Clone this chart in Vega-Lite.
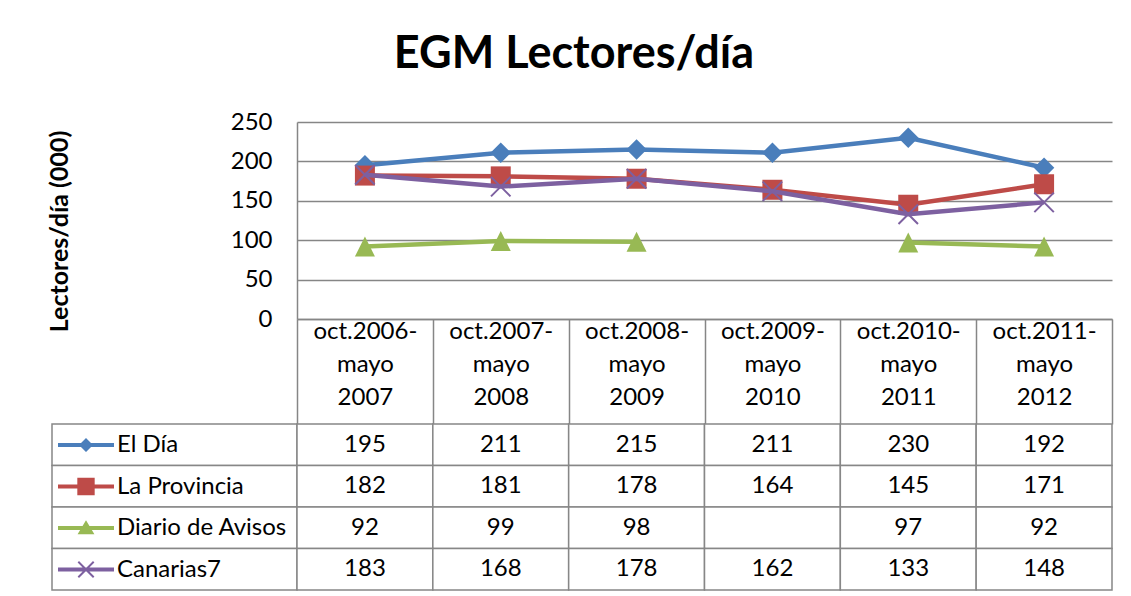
{
  "$schema": "https://vega.github.io/schema/vega-lite/v6.json",
  "background": "white",
  "padding": {"left": 47, "top": 32, "right": 5, "bottom": 5},
  "config": {"view": {"stroke": null}, "font": "Lato"},
  "title": {"text": "EGM Lectores/día", "fontSize": 45, "fontWeight": "bold", "color": "black", "anchor": "middle", "frame": "bounds", "offset": 33, "dx": -6},
  "bounds": "flush",
  "spacing": {"row": 105, "column": 0},
  "columns": 2,
  "resolve": {"scale": {"color": "independent", "shape": "independent"}, "legend": {"color": "independent", "shape": "independent"}},
  "datasets": {
    "egm": [
      {"period": "oct.2006-|mayo|2007", "serie": "El Día", "v": 195},
      {"period": "oct.2007-|mayo|2008", "serie": "El Día", "v": 211},
      {"period": "oct.2008-|mayo|2009", "serie": "El Día", "v": 215},
      {"period": "oct.2009-|mayo|2010", "serie": "El Día", "v": 211},
      {"period": "oct.2010-|mayo|2011", "serie": "El Día", "v": 230},
      {"period": "oct.2011-|mayo|2012", "serie": "El Día", "v": 192},
      {"period": "oct.2006-|mayo|2007", "serie": "La Provincia", "v": 182},
      {"period": "oct.2007-|mayo|2008", "serie": "La Provincia", "v": 181},
      {"period": "oct.2008-|mayo|2009", "serie": "La Provincia", "v": 178},
      {"period": "oct.2009-|mayo|2010", "serie": "La Provincia", "v": 164},
      {"period": "oct.2010-|mayo|2011", "serie": "La Provincia", "v": 145},
      {"period": "oct.2011-|mayo|2012", "serie": "La Provincia", "v": 171},
      {"period": "oct.2006-|mayo|2007", "serie": "Diario de Avisos", "v": 92},
      {"period": "oct.2007-|mayo|2008", "serie": "Diario de Avisos", "v": 99},
      {"period": "oct.2008-|mayo|2009", "serie": "Diario de Avisos", "v": 98},
      {"period": "oct.2009-|mayo|2010", "serie": "Diario de Avisos", "v": null},
      {"period": "oct.2010-|mayo|2011", "serie": "Diario de Avisos", "v": 97},
      {"period": "oct.2011-|mayo|2012", "serie": "Diario de Avisos", "v": 92},
      {"period": "oct.2006-|mayo|2007", "serie": "Canarias7", "v": 183},
      {"period": "oct.2007-|mayo|2008", "serie": "Canarias7", "v": 168},
      {"period": "oct.2008-|mayo|2009", "serie": "Canarias7", "v": 178},
      {"period": "oct.2009-|mayo|2010", "serie": "Canarias7", "v": 162},
      {"period": "oct.2010-|mayo|2011", "serie": "Canarias7", "v": 133},
      {"period": "oct.2011-|mayo|2012", "serie": "Canarias7", "v": 148}
    ],
    "series": [
      {"serie": "El Día"},
      {"serie": "La Provincia"},
      {"serie": "Diario de Avisos"},
      {"serie": "Canarias7"}
    ]
  },
  "concat": [
    {
      "width": 245,
      "height": 197,
      "data": {"values": []},
      "mark": "point"
    },
    {
      "width": 815,
      "height": 197,
      "data": {"name": "egm"},
      "encoding": {
        "x": {
          "field": "period",
          "type": "nominal",
          "bandPosition": 0.5,
          "scale": {"type": "band", "paddingInner": 0, "paddingOuter": 0, "domain": ["oct.2006-|mayo|2007", "oct.2007-|mayo|2008", "oct.2008-|mayo|2009", "oct.2009-|mayo|2010", "oct.2010-|mayo|2011", "oct.2011-|mayo|2012"]},
          "axis": {
            "title": null,
            "labelExpr": "isValid(datum.value) ? split(datum.value, '|') : ''",
            "labelAngle": 0,
            "domain": true,
            "domainColor": "#868686",
            "domainWidth": 1.5,
            "ticks": true,
            "tickBand": "extent",
            "tickSize": 105,
            "tickColor": "#868686",
            "tickWidth": 1.5,
            "labelFontSize": 24,
            "labelLineHeight": 33,
            "labelColor": "black",
            "labelPadding": -105,
            "labelBaseline": "top",
            "labelOverlap": false,
            "labelBound": false,
            "labelFlush": false,
            "grid": false
          }
        },
        "y": {
          "field": "v",
          "type": "quantitative",
          "scale": {"domain": [0, 250], "nice": false},
          "axis": {
            "values": [0, 50, 100, 150, 200, 250],
            "grid": true,
            "gridColor": "#868686",
            "gridWidth": 1.5,
            "domain": true,
            "domainColor": "#868686",
            "domainWidth": 1.5,
            "ticks": false,
            "labelFontSize": 24,
            "labelColor": "black",
            "labelPadding": 25,
            "title": "Lectores/día (000)",
            "titleFontSize": 25,
            "titleFontWeight": "bold",
            "titleColor": "black",
            "titlePadding": 158,
            "titleY": 109
          }
        }
      },
      "layer": [
        {"transform": [{"filter": "datum.serie === 'El Día'"}], "mark": {"type": "line", "color": "#4A7EBB", "strokeWidth": 4.5}},
        {"transform": [{"filter": "datum.serie === 'El Día'"}], "mark": {"type": "point", "shape": "diamond", "filled": true, "color": "#4A7EBB", "size": 420, "opacity": 1}},
        {"transform": [{"filter": "datum.serie === 'La Provincia'"}], "mark": {"type": "line", "color": "#BE4B48", "strokeWidth": 4.5}},
        {"transform": [{"filter": "datum.serie === 'La Provincia'"}], "mark": {"type": "point", "shape": "square", "filled": true, "color": "#BE4B48", "size": 400, "opacity": 1}},
        {"transform": [{"filter": "datum.serie === 'Diario de Avisos'"}], "mark": {"type": "line", "color": "#98B954", "strokeWidth": 4.5, "invalid": "break-paths-filter-domains"}},
        {"transform": [{"filter": "datum.serie === 'Diario de Avisos'"}], "mark": {"type": "point", "shape": "M0,-1L1,1L-1,1Z", "filled": true, "color": "#98B954", "size": 400, "opacity": 1}},
        {"transform": [{"filter": "datum.serie === 'Canarias7'"}], "mark": {"type": "line", "color": "#7D60A0", "strokeWidth": 4.5}},
        {"transform": [{"filter": "datum.serie === 'Canarias7'"}], "mark": {"type": "point", "shape": "M-1,-1L1,1M-1,1L1,-1", "filled": false, "color": "#7D60A0", "strokeWidth": 2, "size": 380, "opacity": 1}}
      ]
    },
    {
      "width": 245,
      "height": 166,
      "data": {"name": "series"},
      "encoding": {
        "y": {"field": "serie", "type": "nominal", "scale": {"type": "band", "paddingInner": 0, "paddingOuter": 0, "domain": ["El Día", "La Provincia", "Diario de Avisos", "Canarias7"]}, "axis": null}
      },
      "layer": [
        {"mark": {"type": "rect", "fill": "white", "stroke": "#878787", "strokeWidth": 1.5}},
        {
          "transform": [{"filter": "false"}],
          "mark": {"type": "point", "filled": true, "opacity": 1},
          "encoding": {
            "color": {
              "field": "serie", "type": "nominal",
              "scale": {"domain": ["El Día", "La Provincia", "Diario de Avisos", "Canarias7"], "range": ["#4A7EBB", "#BE4B48", "#98B954", "#7D60A0"]},
              "legend": {"title": null, "orient": "none", "legendX": 20, "legendY": 7, "labelFontSize": 24, "labelColor": "black", "symbolSize": 784, "symbolStrokeWidth": 0, "symbolOpacity": 1, "labelOffset": 17, "rowPadding": 15.5, "labelLimit": 400, "padding": 0}
            },
            "shape": {
              "field": "serie", "type": "nominal",
              "scale": {"domain": ["El Día", "La Provincia", "Diario de Avisos", "Canarias7"], "range": [
                "M-2,-0.15H2V0.15H-2Z M0,-0.5L0.5,0L0,0.5L-0.5,0Z",
                "M-2,-0.15H2V0.15H-2Z M-0.62,-0.62H0.62V0.62H-0.62Z",
                "M-2,-0.15H2V0.15H-2Z M0,-0.55L0.6,0.45L-0.6,0.45Z",
                "M-2,-0.15H2V0.15H-2Z M-0.6,-0.5L-0.5,-0.6L0,-0.1L0.5,-0.6L0.6,-0.5L0.1,0L0.6,0.5L0.5,0.6L0,0.1L-0.5,0.6L-0.6,0.5L-0.1,0Z"
              ]},
              "legend": {"title": null, "orient": "none", "legendX": 20, "legendY": 7, "labelFontSize": 24, "labelColor": "black", "symbolSize": 784, "symbolStrokeWidth": 0, "symbolOpacity": 1, "labelOffset": 17, "rowPadding": 15.5, "labelLimit": 400, "padding": 0}
            }
          }
        }
      ]
    },
    {
      "width": 815,
      "height": 166,
      "data": {"name": "egm"},
      "encoding": {
        "x": {"field": "period", "type": "nominal", "scale": {"type": "band", "paddingInner": 0, "paddingOuter": 0, "domain": ["oct.2006-|mayo|2007", "oct.2007-|mayo|2008", "oct.2008-|mayo|2009", "oct.2009-|mayo|2010", "oct.2010-|mayo|2011", "oct.2011-|mayo|2012"]}, "axis": null},
        "y": {"field": "serie", "type": "nominal", "scale": {"type": "band", "paddingInner": 0, "paddingOuter": 0, "domain": ["El Día", "La Provincia", "Diario de Avisos", "Canarias7"]}, "axis": null}
      },
      "layer": [
        {"mark": {"type": "rect", "fill": "white", "stroke": "#878787", "strokeWidth": 1.5}},
        {
          "transform": [{"filter": "isValid(datum.v)"}],
          "mark": {"type": "text", "fontSize": 24, "color": "black"},
          "encoding": {"text": {"field": "v", "type": "quantitative"}}
        }
      ]
    }
  ]
}
